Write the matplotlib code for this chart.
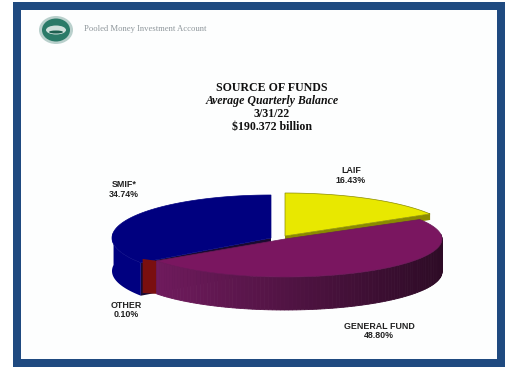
import numpy as np
import matplotlib
matplotlib.use('Agg')
import matplotlib.pyplot as plt
from matplotlib.colors import to_rgb
from matplotlib.patches import Ellipse, Polygon, Rectangle

W, H = 506, 367

# fund shares in percent, clockwise from twelve o'clock
funds = ['LAIF', 'GENERAL FUND', 'OTHER', 'SMIF*']
shares = [16.43, 48.80, 0.03, 34.74]
share_labels = ['16.43%', '48.80%', '0.10%', '34.74%']
top_colors = ['#e8e800', '#7a1660', '#7a0f0f', '#00007f']
side_colors = ['#8a8a00', '#6c1a5a', '#7a0f0f', '#000080']

title_lines = ['SOURCE OF FUNDS', 'Average Quarterly Balance', '3/31/22', '$190.372 billion']
account_name = 'Pooled Money Investment Account'

# each slice sits on its own ellipse: the exploded back slices look larger
centers = [(285, 236), (285, 239), (285, 239), (271, 238)]
radii = [(169, 43), (157, 38), (157, 38), (159, 43)]
depth = 33

fig = plt.figure(figsize=(W / 100, H / 100), dpi=100)
ax = fig.add_axes([0, 0, 1, 1])
ax.set_xlim(0, W)
ax.set_ylim(H, 0)
ax.axis('off')

# page frame
ax.add_patch(Rectangle((13, 2), 492, 365, fc='#1f4a80', ec='none'))
ax.add_patch(Rectangle((21, 10), 476, 349, fc='#fdfefe', ec='none'))

# seal and account name
ax.add_patch(Ellipse((56, 30), 34, 28, fc='#b9d0cc', ec='none'))
ax.add_patch(Ellipse((56, 30), 28, 23, fc='#2a7a68', ec='none'))
ax.add_patch(Ellipse((56, 30), 20, 9, fc='#cfe0dc', ec='none'))
ax.add_patch(Ellipse((56, 32), 14, 3, fc='#1d5f50', ec='none'))
ax.text(84, 29, account_name, fontsize=6.2, family='Liberation Serif', color='#8f979c', va='center')

# heading block
ys = [88, 101, 114, 127]
styles = ['normal', 'italic', 'normal', 'normal']
for line, y, st in zip(title_lines, ys, styles):
    ax.text(272, y, line, fontsize=8.6, family='Liberation Serif', weight='bold',
            style=st, ha='center', va='center', color='#111111')


def shaded(col, t):
    # side wall darkens toward the right of the pie
    f = np.clip(0.72 - 0.32 * np.sin(t), 0, 1)
    return tuple(np.array(to_rgb(col)) * f / 0.95)


edges = np.radians(np.cumsum([0] + shares) * 3.6)

# back slices first so the front ones overlap them
for i in [3, 0, 2, 1]:
    a, b = edges[i], edges[i + 1]
    cx, cy = centers[i]
    rx, ry = radii[i]
    t = np.linspace(a, b, 120)
    x = cx + rx * np.sin(t)
    y = cy - ry * np.cos(t)

    if funds[i] == 'OTHER':
        # the sliver only shows as a cut face left of the general fund
        ax.add_patch(Polygon([(x[0] - 14, y[0] - 2), (x[0], y[0]), (x[0], y[0] + depth), (x[0] - 14, y[0] + depth - 1)],
                             fc=side_colors[i], ec='none'))
        continue

    # outer wall, only where the rim faces the viewer
    front = np.cos(t) < 0.15
    if funds[i] == 'SMIF*':
        # blue has no visible shading; the cut face closes the gap to the next slice
        ax.add_patch(Polygon([(cx, cy), (x[0], y[0]), (x[0], y[0] + depth), (cx, cy + depth)],
                             fc='#1a0a30', ec='none'))
        ax.add_patch(Polygon(np.vstack([np.column_stack([x[front], y[front]]),
                                        np.column_stack([x[front], y[front] + depth])[::-1]]),
                             fc=side_colors[i], ec='none'))
    elif front.any():
        tf, xf, yf = t[front], x[front], y[front]
        for j in range(len(tf) - 1):
            c = shaded(side_colors[i], tf[j])
            ax.add_patch(Polygon([(xf[j], yf[j]), (xf[j + 1], yf[j + 1]),
                                  (xf[j + 1], yf[j + 1] + depth), (xf[j], yf[j] + depth)],
                                 fc=c, ec=c, lw=0.6))

    # olive cut face under the yellow slice
    if funds[i] == 'LAIF':
        ax.add_patch(Polygon([(cx, cy), (x[-1], y[-1]), (x[-1], y[-1] + 6), (cx, cy + 6)],
                             fc=side_colors[i], ec='none'))

    ax.add_patch(Polygon(np.vstack([[cx, cy], np.column_stack([x, y])]),
                         fc=top_colors[i], ec=side_colors[i], lw=0.5))

# slice captions
label_xy = [(351, 175.5), (379, 331), (126, 310), (124, 189.5)]
for name, lab, (lx, ly) in zip(funds, share_labels, label_xy):
    ax.text(lx, ly, f'{name}\n{lab}', fontsize=6.4, family='Liberation Sans', weight='bold',
            ha='center', va='center', color='#222222', linespacing=1.1)

fig.savefig('out.png', dpi=100)
